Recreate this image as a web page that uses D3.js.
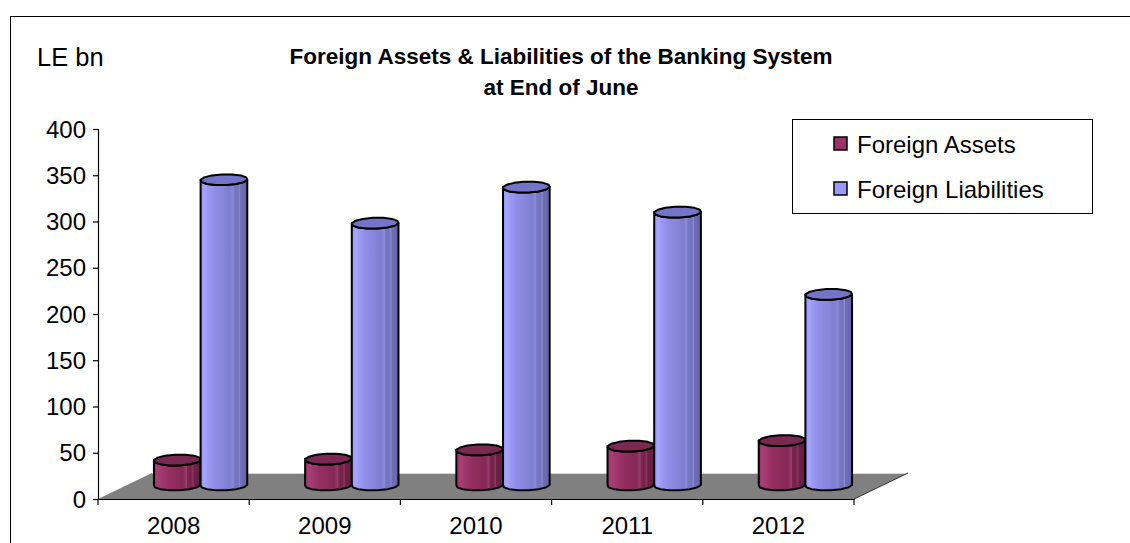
<!DOCTYPE html>
<html>
<head>
<meta charset="utf-8">
<script src="https://cdn.jsdelivr.net/npm/d3@7"></script>
<style>
  html, body { margin: 0; padding: 0; background: #fff; }
  svg { display: block; font-family: "Liberation Sans", Arial, sans-serif; }
</style>
</head>
<body>
<svg id="chart" width="1130" height="543"></svg>
<script>
// Year categories and the two series (LE bn, end of June)
const years = ["2008", "2009", "2010", "2011", "2012"];
const foreignAssets = [27, 28, 38, 42, 48];
const foreignLiabilities = [330, 283, 322, 295, 206];
const valueTicks = [0, 50, 100, 150, 200, 250, 300, 350, 400];
const seriesNames = ["Foreign Assets", "Foreign Liabilities"];
const titleLines = ["Foreign Assets & Liabilities of the Banking System", "at End of June"];
const unitLabel = "LE bn";

const svg = d3.select("#chart");

// outer frame (runs off the right and bottom edges)
svg.append("rect").attr("x", 10.5).attr("y", 16.5).attr("width", 1300).attr("height", 700)
  .attr("fill", "#fff").attr("stroke", "#000").attr("stroke-width", 1);

// scales
const x = d3.scaleBand().domain(years).range([98, 854]).paddingInner(0).paddingOuter(0);
const inner = d3.scaleBand().domain(seriesNames).range([0, x.bandwidth()]).paddingInner(0).paddingOuter(0.62);
const y = d3.scaleLinear().domain([0, 400]).range([499, 129]);

// oblique depth offsets: full floor depth and the plane where the bars stand
const depthX = 54, depthY = -26;
const barDX = 27, barDY = -14;

// gradients for cylinder bodies
const defs = svg.append("defs");
function bodyGradient(id, stops) {
  const g = defs.append("linearGradient").attr("id", id)
    .attr("x1", "0%").attr("x2", "100%").attr("y1", "0%").attr("y2", "0%");
  stops.forEach(([o, c]) => g.append("stop").attr("offset", o).attr("stop-color", c));
}
bodyGradient("gradLiab", [
  ["0%", "#9696f0"], ["8%", "#a6a6ff"], ["16%", "#9a9af4"], ["30%", "#8e8ee6"],
  ["50%", "#8585da"], ["62%", "#7e7ed0"], ["70%", "#8a8ad8"], ["72%", "#7878c6"],
  ["80%", "#7272bd"], ["84%", "#8a8ad2"], ["86%", "#6e6eb6"], ["92%", "#6a6ab0"], ["100%", "#6464a8"]
]);
bodyGradient("gradAssets", [
  ["0%", "#9c3468"], ["8%", "#a83f74"], ["16%", "#a03a6e"], ["30%", "#962f62"],
  ["50%", "#8c2b5a"], ["62%", "#842855"], ["70%", "#96406a"], ["72%", "#7c244e"],
  ["80%", "#76224a"], ["84%", "#8c3a62"], ["86%", "#702046"], ["100%", "#661d40"]
]);
const seriesStyle = {
  "Foreign Assets": { body: "url(#gradAssets)", top: "#7a2a52", swatch: "#993366" },
  "Foreign Liabilities": { body: "url(#gradLiab)", top: "#7474c8", swatch: "#9999ff" }
};

// floor
const floor = d3.path();
floor.moveTo(x.range()[0], y(0));
floor.lineTo(x.range()[1], y(0));
floor.lineTo(x.range()[1] + depthX, y(0) + depthY);
floor.lineTo(x.range()[0] + depthX, y(0) + depthY);
floor.closePath();
svg.append("path").attr("d", floor.toString()).attr("fill", "#808080");
svg.append("line")
  .attr("x1", x.range()[0] + depthX).attr("y1", y(0) + depthY + 0.5)
  .attr("x2", x.range()[1] + depthX).attr("y2", y(0) + depthY + 0.5)
  .attr("stroke", "#d8d8d8").attr("stroke-width", 1);
svg.append("line")
  .attr("x1", x.range()[1]).attr("y1", y(0))
  .attr("x2", x.range()[1] + depthX).attr("y2", y(0) + depthY)
  .attr("stroke", "#333").attr("stroke-width", 1);

// faceted ellipse outline used for the cylinder caps
const facets = 14;
function capPoint(cx, cy, r, t) {
  const ry = 5.5, slant = 3;
  return [cx + r * Math.cos(t) + slant * Math.sin(t), cy - ry * Math.sin(t)];
}
function cylinder(g, x0, x1, v, style) {
  const r = (x1 - x0) / 2;
  const cx = (x0 + x1) / 2 + barDX;
  const by = y(0) + barDY, ty = y(v) + barDY;
  // front half (t from PI to 2PI) of top and bottom
  const front = d3.range(0, facets / 2 + 1).map(i => Math.PI + i * (2 * Math.PI / facets));
  const topFront = front.map(t => capPoint(cx, ty, r, t));
  const botFront = front.map(t => capPoint(cx, by, r, t)).reverse();
  const body = d3.line()(topFront.concat(botFront)) + "Z";
  g.append("path").attr("d", body).attr("fill", style.body)
    .attr("stroke", "#000").attr("stroke-width", 2).attr("stroke-linejoin", "round");
  const cap = d3.range(0, facets).map(i => capPoint(cx, ty, r, i * 2 * Math.PI / facets));
  g.append("path").attr("d", d3.line()(cap) + "Z").attr("fill", style.top)
    .attr("stroke", "#000").attr("stroke-width", 2).attr("stroke-linejoin", "round");
}

const bars = svg.append("g");
years.forEach((yr, i) => {
  const vals = [foreignAssets[i], foreignLiabilities[i]];
  seriesNames.forEach((s, j) => {
    const x0 = x(yr) + inner(s);
    cylinder(bars, x0, x0 + inner.bandwidth(), vals[j], seriesStyle[s]);
  });
});

// value axis
const yAxis = svg.append("g").attr("transform", "translate(98,0)")
  .call(d3.axisLeft(y).tickValues(valueTicks).tickSize(5).tickPadding(7));
yAxis.select(".domain").attr("stroke", "#000").attr("stroke-width", 1.2);
yAxis.selectAll(".tick line").attr("stroke", "#000").attr("stroke-width", 1.2);
yAxis.selectAll(".tick text").attr("font-size", 24).attr("fill", "#000")
  .attr("font-family", "'Liberation Sans', Arial, sans-serif").attr("dy", "0.34em");

// category axis
const xAxis = svg.append("g").attr("transform", `translate(0,${y(0)})`)
  .call(d3.axisBottom(x).tickSize(0).tickPadding(18));
xAxis.select(".domain").attr("stroke", "#000").attr("stroke-width", 1.2);
xAxis.selectAll(".tick text").attr("font-size", 24).attr("fill", "#000")
  .attr("font-family", "'Liberation Sans', Arial, sans-serif");
// boundary ticks between categories
svg.append("g").selectAll("line")
  .data(years.map(d => x(d)).concat([x.range()[1]]))
  .join("line")
  .attr("x1", d => d).attr("x2", d => d)
  .attr("y1", y(0)).attr("y2", y(0) + 6)
  .attr("stroke", "#000").attr("stroke-width", 1.2);

// title
svg.append("g").selectAll("text").data(titleLines).join("text")
  .attr("x", 561).attr("y", (d, i) => 64 + i * 31)
  .attr("text-anchor", "middle").attr("font-weight", "bold").attr("font-size", 22.5)
  .attr("fill", "#000").text(d => d);

// unit label
svg.append("text").attr("x", 37).attr("y", 66).attr("font-size", 25.5).attr("fill", "#000").text(unitLabel);

// legend
const lg = svg.append("g");
lg.append("rect").attr("x", 792.5).attr("y", 119.5).attr("width", 300).attr("height", 94)
  .attr("fill", "#fff").attr("stroke", "#000").attr("stroke-width", 1);
seriesNames.forEach((s, i) => {
  const cy = 144 + i * 45;
  lg.append("rect").attr("x", 834).attr("y", cy - 7).attr("width", 13).attr("height", 13)
    .attr("fill", seriesStyle[s].swatch).attr("stroke", "#000").attr("stroke-width", 1.5);
  lg.append("text").attr("x", 857).attr("y", cy + 9).attr("font-size", 24).attr("fill", "#000").text(s);
});
</script>
</body>
</html>
